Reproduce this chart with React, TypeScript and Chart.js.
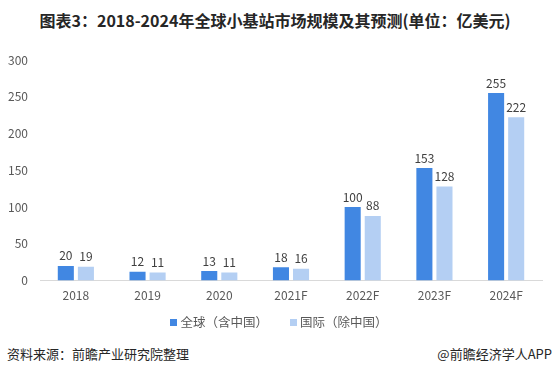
import React, { useEffect, useRef } from "react";
import { Chart, registerables } from "chart.js";

Chart.register(...registerables);

const categories = ["2018", "2019", "2020", "2021F", "2022F", "2023F", "2024F"];
const globalValues = [20, 12, 13, 18, 100, 153, 255];
const intlValues = [19, 11, 11, 16, 88, 128, 222];
const seriesNames = ["全球（含中国）", "国际（除中国）"];
const seriesColors = ["#4187e2", "#b4cff3"];
const yTicks = [0, 50, 100, 150, 200, 250, 300];

const FONT = "'Noto Sans CJK SC', 'Noto Sans', sans-serif";

const dataLabels = {
  id: "dataLabels",
  afterDatasetsDraw(chart: any) {
    const ctx = chart.ctx;
    ctx.save();
    ctx.font = `12px ${FONT}`;
    ctx.fillStyle = "#404040";
    ctx.textAlign = "center";
    ctx.textBaseline = "bottom";
    chart.data.datasets.forEach((ds: any, i: number) => {
      const meta = chart.getDatasetMeta(i);
      meta.data.forEach((bar: any, j: number) => {
        ctx.fillText(String(ds.data[j]), bar.x, bar.y - 4);
      });
    });
    ctx.restore();
  },
};

export default function App() {
  const ref = useRef<HTMLCanvasElement>(null);
  useEffect(() => {
    document.body.style.margin = "0";
    const chart = new Chart(ref.current!, {
      type: "bar",
      data: {
        labels: categories,
        datasets: [
          {
            label: seriesNames[0],
            data: globalValues,
            backgroundColor: seriesColors[0],
            categoryPercentage: 0.56,
            barPercentage: 0.8,
          },
          {
            label: seriesNames[1],
            data: intlValues,
            backgroundColor: seriesColors[1],
            categoryPercentage: 0.56,
            barPercentage: 0.8,
          },
        ],
      },
      options: {
        animation: false,
        responsive: false,
        maintainAspectRatio: false,
        layout: { padding: { top: 20, right: 12, left: 0, bottom: 2 } },
        plugins: {
          legend: { display: false },
          tooltip: { enabled: false },
        },
        scales: {
          x: {
            grid: { display: false, drawTicks: false },
            border: { color: "#d9d9d9", width: 1 },
            ticks: { color: "#595959", font: { size: 12, family: FONT }, padding: 8 },
          },
          y: {
            min: 0,
            max: 300,
            afterBuildTicks: (s: any) => {
              s.ticks = yTicks.map((v) => ({ value: v }));
            },
            afterFit: (s: any) => {
              s.width = 40;
            },
            grid: { display: false, drawTicks: false },
            border: { display: false },
            ticks: { color: "#595959", font: { size: 12, family: FONT }, padding: 12 },
          },
        },
      },
      plugins: [dataLabels],
    });
    return () => chart.destroy();
  }, []);

  const textStyle = {
    fontFamily: FONT,
    fontSize: 13,
    color: "#262626",
    lineHeight: "20px",
  };

  return (
    <div style={{ position: "relative", width: 554, height: 375, background: "#fff", overflow: "hidden" }}>
      <div
        style={{
          position: "absolute",
          left: 0,
          width: 554,
          top: 9,
          textAlign: "center",
          fontFamily: FONT,
          fontWeight: "bold",
          fontSize: 16,
          color: "#262626",
          lineHeight: "22px",
          paddingRight: 4,
          boxSizing: "border-box",
        }}
      >
        图表3：2018-2024年全球小基站市场规模及其预测(单位：亿美元)
      </div>
      <canvas ref={ref} width={554} height={273} style={{ position: "absolute", left: 0, top: 40 }} />
      <div
        style={{
          position: "absolute",
          left: 0,
          width: 554,
          top: 312,
          display: "flex",
          justifyContent: "center",
          alignItems: "center",
          paddingLeft: 4,
          boxSizing: "border-box",
          fontFamily: FONT,
          fontSize: 12.5,
          color: "#595959",
          lineHeight: "20px",
        }}
      >
        {seriesNames.map((name, i) => (
          <div key={name} style={{ display: "flex", alignItems: "center", marginLeft: i ? 22 : 0 }}>
            <span style={{ width: 7, height: 7, background: seriesColors[i], marginRight: 3, display: "inline-block" }} />
            <span>{name}</span>
          </div>
        ))}
      </div>
      <div style={{ ...textStyle, position: "absolute", left: 7, top: 344 }}>资料来源：前瞻产业研究院整理</div>
      <div style={{ ...textStyle, position: "absolute", right: 2, top: 344 }}>@前瞻经济学人APP</div>
    </div>
  );
}
